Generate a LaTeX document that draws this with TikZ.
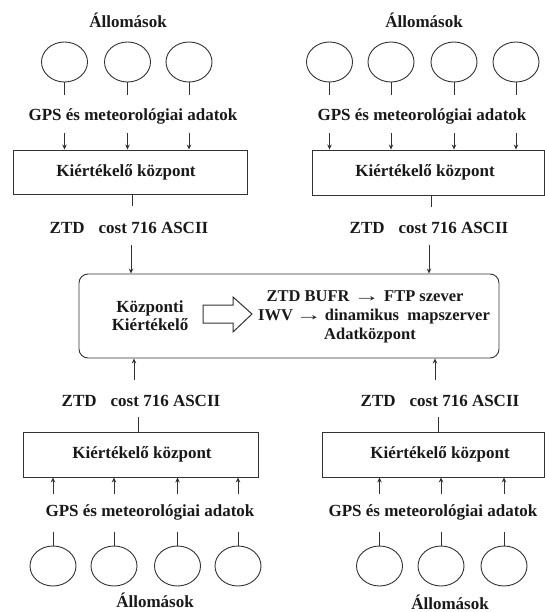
\documentclass[tikz,border=0pt]{standalone}
\usepackage{fontspec}
\setmainfont{Liberation Serif}
\usetikzlibrary{shapes.geometric,arrows.meta}
\newcommand{\longarr}{\scalebox{1.6}[1]{→}}
\begin{document}
\begin{tikzpicture}[x=1pt,y=-1pt,
  lbl/.style={font=\fontsize{17}{18}\selectfont\bfseries, inner sep=0pt, text=black!90},
  clbl/.style={lbl, anchor=base, font=\fontsize{16.5}{18}\selectfont\bfseries},
  stn/.style={draw=black!80, line width=0.9pt, ellipse, minimum width=46pt, minimum height=40pt, inner sep=0pt},
  evalbox/.style={draw=black!80, line width=0.9pt, rectangle, inner sep=0pt},
  conn/.style={draw=black!80, line width=0.9pt},
  arr/.style={conn, -{Stealth[length=5pt,width=4.5pt]}},
  bigarr/.style={draw=black!80, line width=1pt, fill=white}
]
\useasboundingbox (0,0) rectangle (545,612);

% ---------- central box ----------
\node[evalbox, rounded corners=9pt, minimum width=420pt, minimum height=84pt] (cbox) at (289,316) {};
\node[lbl, align=center] (ck) at (150,316) {Központi\\Kiértékelő};
\node[clbl] (cr1) at (365,301.8) {ZTD BUFR \longarr{} FTP szever};
\node[clbl] (cr2) at (374,320.6) {IWV\,\longarr\,dinamikus\ \ mapszerver};
\node[clbl] (cr3) at (370,339.4) {Adatközpont};
\draw[bigarr] (203,305) -- (233,305) -- (233,297) -- (252,314) -- (233,332) -- (233,323) -- (203,323) -- cycle;

% ---------- top-left group ----------
\node[lbl] (tlt) at (128,20) {Állomások};
\foreach \i/\x in {1/64.5,2/127.5,3/189} {
  \node[stn] (tls\i) at (\x,62) {};
}
\node[lbl] (tlg) at (133,116) {GPS és meteorológiai adatok};
\node[evalbox, minimum width=234pt, minimum height=44pt] (tlbox) at (130,172) {};
\node[lbl] (tlbt) at (126,172) {Kiértékelő központ};
\foreach \i in {1,2,3} {
  \coordinate (tlc\i) at (tls\i.south |- 0,95);
  \coordinate (tld\i) at (tls\i.south |- 0,133);
  \draw[conn] (tls\i.south) -- (tlc\i);
  \draw[arr] (tld\i) -- (tld\i |- tlbox.north);
}
\node[lbl] (tlz) at (129,228) {ZTD\hspace{14pt}cost 716 ASCII};
\coordinate (tle) at (132,206);
\draw[conn] (tle |- tlbox.south) -- (tle);
\coordinate (tlf) at (131,245);
\draw[arr] (tlf) -- (tlf |- cbox.north);

% ---------- top-right group ----------
\node[lbl] (trt) at (424,20) {Állomások};
\foreach \i/\x in {1/329.5,2/391,3/454,4/516} {
  \node[stn] (trs\i) at (\x,62) {};
}
\node[lbl] (trg) at (422,116) {GPS és meteorológiai adatok};
\node[evalbox, minimum width=232pt, minimum height=45pt] (trbox) at (428,172.5) {};
\node[lbl] (trbt) at (425,172) {Kiértékelő központ};
\foreach \i in {1,2,3,4} {
  \coordinate (trc\i) at (trs\i.south |- 0,95);
  \coordinate (trd\i) at (trs\i.south |- 0,133);
  \draw[conn] (trs\i.south) -- (trc\i);
  \draw[arr] (trd\i) -- (trd\i |- trbox.north);
}
\node[lbl] (trz) at (429,228) {ZTD\hspace{14pt}cost 716 ASCII};
\coordinate (tre) at (431,207);
\draw[conn] (tre |- trbox.south) -- (tre);
\coordinate (trf) at (429,245);
\draw[arr] (trf) -- (trf |- cbox.north);

% ---------- bottom-left group ----------
\coordinate (blf) at (134,380);
\draw[arr] (blf) -- (blf |- cbox.south);
\node[lbl] (blz) at (141,401) {ZTD\hspace{14pt}cost 716 ASCII};
\node[evalbox, minimum width=235pt, minimum height=45pt] (blbox) at (140.5,454.5) {};
\node[lbl] (blbt) at (142,454) {Kiértékelő központ};
\coordinate (ble) at (138,417);
\draw[conn] (ble |- blbox.north) -- (ble);
\node[lbl] (blg) at (150,512) {GPS és meteorológiai adatok};
\foreach \i/\x in {1/53,2/114,3/177.5,4/238} {
  \node[stn] (bls\i) at (\x,566) {};
  \coordinate (blc\i) at (bls\i.north |- 0,532);
  \coordinate (bld\i) at (bls\i.north |- 0,494);
  \draw[conn] (bls\i.north) -- (blc\i);
  \draw[arr] (bld\i) -- (bld\i |- blbox.south);
}
\node[lbl] (blt) at (155,600) {Állomások};

% ---------- bottom-right group ----------
\coordinate (brf) at (435,380);
\draw[arr] (brf) -- (brf |- cbox.south);
\node[lbl] (brz) at (440,401) {ZTD\hspace{14pt}cost 716 ASCII};
\node[evalbox, minimum width=222pt, minimum height=45pt] (brbox) at (433,454.5) {};
\node[lbl] (brbt) at (440,454) {Kiértékelő központ};
\coordinate (bre) at (438,417);
\draw[conn] (bre |- brbox.north) -- (bre);
\node[lbl] (brg) at (433,512) {GPS és meteorológiai adatok};
\foreach \i/\x in {1/379.5,2/441,3/504} {
  \node[stn] (brs\i) at (\x,566) {};
  \coordinate (brc\i) at (brs\i.north |- 0,532);
  \coordinate (brd\i) at (brs\i.north |- 0,494);
  \draw[conn] (brs\i.north) -- (brc\i);
  \draw[arr] (brd\i) -- (brd\i |- brbox.south);
}
\node[lbl] (brt) at (450,602) {Állomások};
\end{tikzpicture}
\end{document}
